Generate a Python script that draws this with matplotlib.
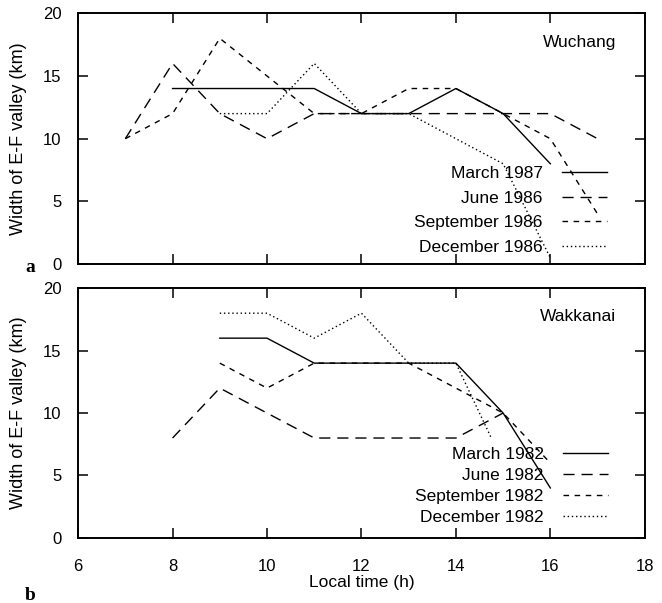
import matplotlib
matplotlib.use('Agg')
import matplotlib.pyplot as plt

plt.rcParams['font.family'] = ['Liberation Sans', 'DejaVu Sans']

# Wuchang (panel a)
wu_labels = ['March 1987', 'June 1986', 'September 1986', 'December 1986']
wu_mar_x = [8, 9, 10, 11, 12, 13, 14, 15, 16]
wu_mar_y = [14, 14, 14, 14, 12, 12, 14, 12, 8]
wu_jun_x = [7, 8, 9, 10, 11, 12, 13, 14, 15, 16, 17]
wu_jun_y = [10, 16, 12, 10, 12, 12, 12, 12, 12, 12, 10]
wu_sep_x = [7, 8, 9, 10, 11, 12, 13, 14, 15, 16, 17]
wu_sep_y = [10, 12, 18, 15, 12, 12, 14, 14, 12, 10, 4]
wu_dec_x = [9, 10, 11, 12, 13, 14, 15, 16]
wu_dec_y = [12, 12, 16, 12, 12, 10, 8, 0.5]

# Wakkanai (panel b)
wk_labels = ['March 1982', 'June 1982', 'September 1982', 'December 1982']
wk_mar_x = [9, 10, 11, 12, 13, 14, 15, 16]
wk_mar_y = [16, 16, 14, 14, 14, 14, 10, 4]
wk_jun_x = [8, 9, 10, 11, 12, 13, 14, 15]
wk_jun_y = [8, 12, 10, 8, 8, 8, 8, 10]
wk_sep_x = [9, 10, 11, 12, 13, 14, 15, 16]
wk_sep_y = [14, 12, 14, 14, 14, 12, 10, 6]
wk_dec_x = [9, 10, 11, 12, 13, 14, 14.75]
wk_dec_y = [18, 18, 16, 18, 14, 14, 8]

styles = ['-', (0, (8, 5)), (0, (4, 4)), (0, (1, 2))]

fig = plt.figure(figsize=(6.62, 6.03), dpi=100)
ax1 = fig.add_axes([0.118, 0.562, 0.856, 0.416])
ax2 = fig.add_axes([0.118, 0.108, 0.856, 0.414])


def draw(ax, series, labels, site, leg_anchor, spacing):
    for (x, y), ls, lab in zip(series, styles, labels):
        ax.plot(x, y, color='black', linestyle=ls, linewidth=1.0, label=lab)
    ax.set_xlim(6, 18)
    ax.set_ylim(0, 20)
    ax.set_xticks([6, 8, 10, 12, 14, 16, 18])
    ax.set_yticks([0, 5, 10, 15, 20])
    ax.tick_params(direction='in', length=7, width=1.1, top=True, right=True,
                   labelsize=12)
    ax.tick_params(axis='y', pad=12)
    ax.tick_params(axis='x', pad=15)
    for s in ax.spines.values():
        s.set_linewidth(1.4)
    ax.set_ylabel('Width of E-F valley (km)', fontsize=13)
    ax.yaxis.set_label_coords(-0.09, 0.5)
    ax.text(0.95, 0.885, site, transform=ax.transAxes, ha='right', va='center',
            fontsize=12.5)
    ax.legend(loc='lower right', bbox_to_anchor=leg_anchor, markerfirst=False,
              frameon=False, fontsize=12.5, handlelength=2.6, handletextpad=1.1,
              labelspacing=spacing, borderpad=0, borderaxespad=0)


draw(ax1, [(wu_mar_x, wu_mar_y), (wu_jun_x, wu_jun_y), (wu_sep_x, wu_sep_y),
           (wu_dec_x, wu_dec_y)], wu_labels, 'Wuchang', (0.933, 0.036), 0.55)
draw(ax2, [(wk_mar_x, wk_mar_y), (wk_jun_x, wk_jun_y), (wk_sep_x, wk_sep_y),
           (wk_dec_x, wk_dec_y)], wk_labels, 'Wakkanai', (0.935, 0.05), 0.35)

ax1.tick_params(axis='x', labelbottom=False)
ax2.set_xlabel('Local time (h)', fontsize=12.5, labelpad=1)

fig.text(0.045, 1 - 267 / 603, 'a', family='Liberation Serif', weight='bold',
         fontsize=14, ha='center', va='center')
fig.text(0.045, 1 - 595 / 603, 'b', family='Liberation Serif', weight='bold',
         fontsize=14, ha='center', va='center')

fig.savefig('out.png', dpi=100)
